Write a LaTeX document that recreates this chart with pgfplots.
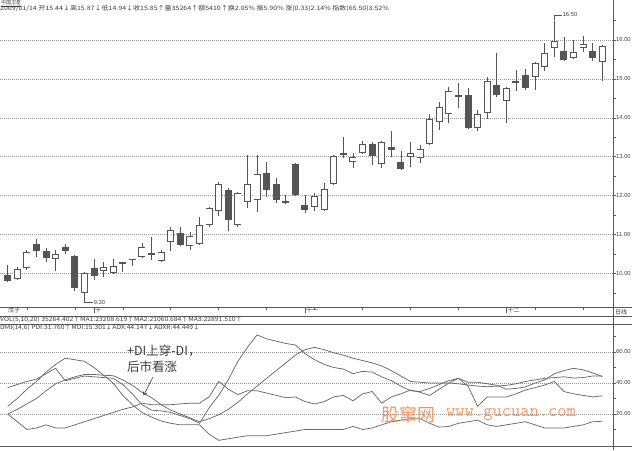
\documentclass[border=0pt]{standalone}
\usepackage{pgfplots}
\pgfplotsset{compat=1.18}
\usepackage{pgfplotstable}
\usepackage{fontspec}
\usetikzlibrary{arrows.meta}
\setmainfont{Liberation Sans}
\newfontfamily\cjk{Noto Sans CJK SC}
\definecolor{cdl}{RGB}{85,85,85}
\definecolor{axc}{RGB}{90,90,90}
\definecolor{gridc}{RGB}{150,150,150}
\definecolor{dmic}{RGB}{105,105,105}
\definecolor{wm}{RGB}{242,150,95}
\definecolor{txt}{RGB}{60,60,60}

\pgfplotstableread{
i O H L C
1 9.96 10.22 9.78 9.80
2 9.86 10.16 9.83 10.11
3 10.14 10.60 10.09 10.55
4 10.76 10.88 10.42 10.58
5 10.58 10.65 10.29 10.40
6 10.37 10.60 10.06 10.50
7 10.68 10.76 10.50 10.58
8 10.45 10.47 9.55 9.62
9 9.50 10.03 9.30 10.01
10 10.14 10.37 9.83 9.93
11 10.06 10.29 9.91 10.16
12 10.01 10.37 9.98 10.19
13 10.25 10.28 10.03 10.28
14 10.35 10.38 10.19 10.38
15 10.42 10.78 10.40 10.68
16 10.52 10.94 10.34 10.47
17 10.32 10.60 10.30 10.55
18 10.81 11.19 10.58 11.12
19 11.04 11.19 10.70 10.73
20 10.70 11.06 10.60 10.96
21 10.76 11.45 10.74 11.24
22 11.24 11.70 11.20 11.68
23 11.60 12.35 11.48 12.30
24 12.14 12.20 11.09 11.37
25 11.24 12.10 11.20 12.07
26 11.84 13.04 11.68 12.30
27 11.89 13.04 11.58 12.56
28 12.58 12.86 11.96 12.14
29 12.30 12.45 11.81 11.89
30 11.86 12.02 11.79 11.81
31 12.81 12.83 12.00 12.02
32 11.76 12.02 11.55 11.63
33 11.71 12.07 11.60 11.99
34 11.63 12.32 11.60 12.17
35 12.30 13.05 12.28 13.02
36 13.10 13.51 12.97 13.04
37 12.86 13.10 12.71 12.99
38 13.10 13.40 13.08 13.33
39 13.33 13.38 12.79 13.02
40 12.81 13.40 12.71 13.38
41 13.25 13.66 12.99 13.17
42 12.86 13.15 12.66 12.68
43 12.99 13.38 12.74 13.10
44 12.97 13.30 12.84 13.20
45 13.33 14.10 13.30 13.97
46 13.89 14.41 13.69 14.28
47 14.10 14.79 13.87 14.69
48 14.59 14.89 14.25 14.53
49 14.59 14.77 13.72 13.74
50 13.74 14.20 13.66 14.10
51 14.12 15.05 13.97 14.95
52 14.84 15.67 14.53 14.59
53 14.43 14.79 13.87 14.77
54 14.95 15.23 14.69 14.89
55 15.10 15.25 14.71 14.77
56 15.05 15.43 14.71 15.41
57 15.31 15.92 15.20 15.67
58 15.79 16.50 15.56 15.97
59 15.72 16.08 15.46 15.49
60 15.54 16.00 15.52 15.69
61 15.79 16.10 15.69 15.90
62 15.72 15.92 15.46 15.54
63 15.44 15.87 14.94 15.85
}\candles

\pgfplotstableread{
i PDI MDI ADX ADXR
1 20 25 37 20
2 15 30 39 23
3 10 36 41 26.5
4 11 41 42.5 30
5 13 47 46 35
6 11 52 49.5 39.5
7 11 56 41.5 42
8 13 55 43 44
9 15 54 44.5 45.5
10 17 50 44 45.5
11 19 45 43.5 45
12 21 40 43 44.7
13 23 32 39 42
14 24.5 26 33 38.5
15 27 21 26 34
16 26 18 22.5 30.5
17 26 15.5 22 26
18 26 14 21 22.5
19 26.5 13 19 20
20 27 13 17 17.5
21 27 13 14 15
22 31 7 24 17
23 41 3 32 19.5
24 36 4 42 23
25 32.5 5 54 27.5
26 35 6 63 33
27 35 6 71 38
28 33.5 6 68.5 43
29 32 7 67 48
30 30.5 8 65.5 53
31 31 9 64.5 58
32 28 10 59 61.5
33 26.5 10 55 63
34 28 10 52 61.5
35 31 10 50 59.5
36 32 10 49 58
37 28.5 12 46 56
38 33 10 47.5 54.5
39 34.5 11 47 53
40 27 13 44 51
41 31 15 41.5 48
42 33 16 38 44.5
43 35.5 17 35 41
44 34 17 34.5 40.5
45 32 14 36.5 40
46 36 11.5 39 40
47 40 12 41.5 40
48 43 14 43 39.5
49 38 15 40.5 38.7
50 25 16 40.5 38
51 31 13 39.5 37.6
52 31 12 38.5 38
53 31 13 36 38.5
54 33 14 36.5 39.5
55 35.5 15 37.5 41
56 37 13 40 42
57 38.7 11 42 43
58 41 11 46 43.5
59 34.5 11 48 44
60 33 12 49.5 43.2
61 32 13 48.5 43.5
62 31 15 46.5 44.5
63 31.76 15.30 44.15 44.45
}\dmi

\pgfplotsset{candle/.style={only marks, mark=*, mark size=0pt, mark options={draw=none,fill=none},
  error bars/y dir=both, error bars/y explicit, error bars/error mark=none}}

\begin{document}
\begin{tikzpicture}[x=1pt,y=1pt]
% ---------------- price panel ----------------
\begin{axis}[
  at={(0pt,142.3pt)}, anchor=south west,
  scale only axis, width=613pt, height=293.7pt,
  xmin=0.197, xmax=64.117, ymin=9.118, ymax=16.668,
  axis line style={draw=none}, tick style={draw=none},
  xtick=\empty,
  ytick={10,11,12,13,14,15,16},
  yticklabels={10.00,11.00,12.00,13.00,14.00,15.00,16.00},
  yticklabel pos=right,
  yticklabel style={font=\fontsize{5.8}{6}\selectfont, text=txt, anchor=west, inner sep=0pt, xshift=3pt},
  ymajorgrids, major grid style={gridc, dash pattern=on 0.8pt off 1.2pt, line width=0.5pt},
  clip=false,
]
\addplot[candle, error bars/error bar style={cdl, line width=0.8pt}]
  table[x=i, y expr={(\thisrow{H}+\thisrow{L})/2}, y error expr={(\thisrow{H}-\thisrow{L})/2}] {\candles};
\addplot[candle, error bars/error bar style={cdl, line width=7pt}]
  table[x=i, y expr={(\thisrow{O}+\thisrow{C})/2}, y error expr={max(abs(\thisrow{C}-\thisrow{O})/2,0.014)}] {\candles};
\addplot[candle, error bars/error bar style={white, line width=5.3pt}]
  table[x=i, y expr={(\thisrow{O}+\thisrow{C})/2}, y error expr={(\thisrow{C}>\thisrow{O})*max((\thisrow{C}-\thisrow{O})/2-0.022,0)}] {\candles};
\end{axis}

% ---------------- DMI panel ----------------
\begin{axis}[
  at={(0pt,3.5pt)}, anchor=south west,
  scale only axis, width=613pt, height=122.2pt,
  xmin=0.197, xmax=64.117, ymin=-0.968, ymax=77.87,
  axis line style={draw=none}, tick style={draw=none},
  xtick=\empty,
  ytick={20,40,60},
  yticklabels={20.00,40.00,60.00},
  yticklabel pos=right,
  yticklabel style={font=\fontsize{5.8}{6}\selectfont, text=txt, anchor=west, inner sep=0pt, xshift=3pt},
  ymajorgrids, major grid style={gridc, dash pattern=on 0.8pt off 1.2pt, line width=0.5pt},
  clip=false,
]
\addplot[dmic, line width=0.75pt, sharp plot] table[x=i, y=PDI] {\dmi};
\addplot[dmic, line width=0.75pt, sharp plot] table[x=i, y=MDI] {\dmi};
\addplot[dmic, line width=0.75pt, sharp plot] table[x=i, y=ADX] {\dmi};
\addplot[dmic, line width=0.75pt, sharp plot] table[x=i, y=ADXR] {\dmi};
\end{axis}

% ---------------- frame lines ----------------
\draw[axc, line width=0.6pt] (613,0) -- (613,450);
\draw[axc, line width=0.6pt] (0,142.3) -- (632,142.3);
\draw[axc, line width=0.5pt] (0,134) -- (632,134);
\draw[axc, line width=0.6pt] (0,125.7) -- (632,125.7);
\draw[axc, line width=0.6pt] (0,3.5) -- (632,3.5);
\foreach \p in {9.5,10,10.5,11,11.5,12,12.5,13,13.5,14,14.5,15,15.5,16,16.5}
  \draw[axc, line width=0.5pt] (613,{450-(40+(16-\p)*38.9)}) -- ++(3,0);
\foreach \v in {10,20,30,40,50,60,70}
  \draw[axc, line width=0.5pt] (613,{450-(445-1.55*\v)}) -- ++(2.5,0);
\foreach \c in {3,8,13,18,23,28,33,38,43,48,56,61}
  \draw[axc, line width=0.5pt] ({7.7+(\c-1)*9.59},142.3) -- ++(0,-2);
\foreach \c in {10,32,53}
  \draw[axc, line width=0.6pt] ({7.7+(\c-1)*9.59},142.3) -- ++(0,-5.5);

% high / low markers
\draw[cdl, line width=0.5pt] (554.3,429.5) -- (554.3,435) -- (561.5,435)
  node[right, inner sep=1pt, text=txt, font=\fontsize{5.8}{6}\selectfont] {16.50};
\draw[cdl, line width=0.5pt] (84.4,149.4) -- (84.4,147.4) -- (92.5,147.4)
  node[right, inner sep=1pt, text=txt, font=\fontsize{5.8}{6}\selectfont] {9.30};

% ---------------- texts ----------------
\node[anchor=base west, inner sep=0pt, text=txt, font=\cjk\fontsize{5}{5}\selectfont] at (1,445.9) {\underline{中国卫星}};
\node[anchor=west, inner sep=0pt, text=txt, font=\cjk\fontsize{6}{6}\selectfont] at (0,441.8)
  {\scalebox{1.17}[1]{2009/01/14 开15.44↓高15.87↓低14.94↓收15.85↑量35264↑额5410↑换2.05\% 振5.90\% 涨(0.33)2.14\% 指数(65.50)3.52\%}};
\node[anchor=west, inner sep=0pt, text=txt, font=\cjk\fontsize{6}{6}\selectfont] at (8,139.5) {戊子};
\node[anchor=west, inner sep=0pt, text=txt, font=\cjk\fontsize{6}{6}\selectfont] at ({7.7+9*9.59+1},139.5) {十};
\node[anchor=west, inner sep=0pt, text=txt, font=\cjk\fontsize{6}{6}\selectfont] at ({7.7+31*9.59+1},139.5) {十一};
\node[anchor=west, inner sep=0pt, text=txt, font=\cjk\fontsize{6}{6}\selectfont] at ({7.7+52*9.59+1},139.5) {十二};
\node[anchor=west, inner sep=0pt, text=txt, font=\cjk\fontsize{6}{6}\selectfont] at (615,138) {日线};
\node[anchor=west, inner sep=0pt, text=txt, font=\cjk\fontsize{6}{6}\selectfont] at (0,130.3)
  {\scalebox{1.13}[1]{VOL(5,10,20) 35264.402↑MA1:23208.619↑MA2:21060.684↑MA3:22891.510↑}};
\node[anchor=west, inner sep=0pt, text=txt, font=\cjk\fontsize{6}{6}\selectfont] at (0,122.6)
  {\scalebox{1.12}[1]{DMI(14,6) PDI:31.760↑MDI:15.301↓ADX:44.147↓ADXR:44.449↓}};
% annotation
\node[anchor=west, inner sep=0pt, text=txt, font=\cjk\fontsize{12.5}{13}\selectfont] at (127,99) {+DI上穿-DI，};
\node[anchor=west, inner sep=0pt, text=txt, font=\cjk\fontsize{12.5}{13}\selectfont] at (127,83) {后市看涨};
\draw[txt, line width=0.6pt, -{Straight Barb[length=3pt,width=4pt]}] (153,73) -- (143.5,54.5);
% watermark
\node[anchor=west, inner sep=0pt, text=wm, font=\cjk\fontsize{18}{18}\selectfont] at (381,35) {股窜网};
\node[anchor=west, inner sep=0pt, text=wm, font=\ttfamily\fontsize{18}{18}\selectfont] at (446,35) {www.gucuan.com};

\pgfresetboundingbox
\path[use as bounding box] (0,0) rectangle (632,450);
\end{tikzpicture}
\end{document}
